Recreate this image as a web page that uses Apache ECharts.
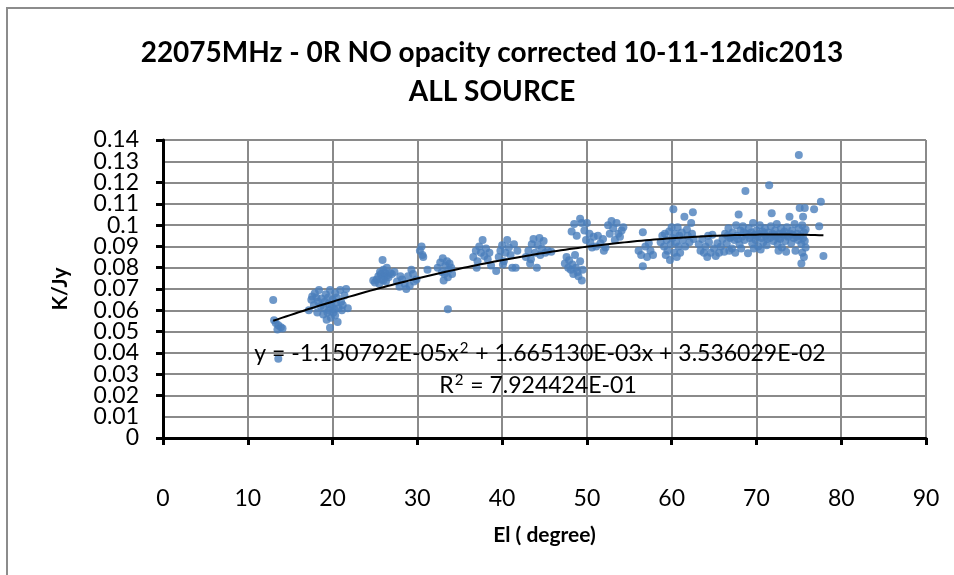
<!DOCTYPE html>
<html>
<head>
<meta charset="utf-8">
<script src="https://cdn.jsdelivr.net/npm/echarts@6/dist/echarts.min.js"></script>
<style>
  html, body { margin: 0; padding: 0; background: #fff; }
  #chart { width: 954px; height: 575px; }
</style>
</head>
<body>
<div id="chart"></div>
<script>
// Elevation (degree) and gain (K/Jy) of every source measurement, 10-11-12 dic 2013
const elevation = [
  // 13-14 deg
  13.0, 13.1, 13.3, 13.6, 13.9, 14.1, 13.5, 13.6,
  // 17-22 deg
  17.2, 17.5, 17.6, 17.9, 18.1, 18.3, 18.4, 18.6, 18.7, 18.9, 19.0, 19.1, 19.2, 19.3, 19.4, 19.5, 19.6, 19.7, 19.7, 19.8,
  19.9, 20.0, 20.1, 20.2, 20.3, 20.4, 20.5, 20.6, 20.7, 20.9, 21.0, 21.1, 21.2, 21.4, 21.6, 21.8, 17.8, 18.2, 19.5, 20.3,
  // 25-27 deg
  25.0, 25.2, 25.4, 25.5, 25.6, 25.7, 25.8, 25.9, 26.0, 26.1, 26.2, 26.3, 26.4, 26.5, 26.6, 26.8, 27.0, 27.3, 24.8, 26.0,
  // 27.5-30 deg
  27.6, 27.9, 28.2, 28.5, 28.7, 28.9, 29.1, 29.3, 29.5, 29.6, 29.9, 28.0,
  // 30-31 deg
  30.3, 30.5, 30.6, 30.7, 31.2,
  // 32-34 deg
  32.4, 32.7, 32.9, 33.0, 33.2, 33.3, 33.5, 33.6, 33.7, 33.8, 34.0, 34.1, 33.1, 33.6,
  // 36-39 deg
  36.6, 36.9, 37.1, 37.3, 37.5, 37.7, 37.9, 38.1, 38.3, 38.5, 38.7, 37.0,
  // 39-42 deg
  39.3, 39.6, 39.8, 40.0, 40.2, 40.4, 40.6, 40.8, 41.0, 41.2, 41.4, 41.6, 41.8, 40.1,
  // 43-46 deg
  42.8, 43.1, 43.3, 43.5, 43.7, 43.9, 44.1, 44.2, 44.4, 44.5, 44.7, 44.9, 45.1, 45.4, 45.8, 43.4,
  // 47-50 deg, lower group
  47.4, 47.6, 47.8, 47.9, 48.1, 48.3, 48.4, 48.6, 48.7, 48.9, 49.0, 49.2, 49.4, 49.5,
  // 48-50 deg, upper group
  48.2, 48.5, 48.8, 49.2, 49.4, 49.7, 50.0, 50.3, 49.9,
  // 50-55 deg
  50.4, 50.8, 51.1, 51.3, 51.6, 51.9, 52.2, 52.5, 52.7, 52.9, 53.1, 53.3, 53.5, 53.7, 53.9, 54.1, 54.3, 52.0, 50.6,
  // 56-58 deg
  56.1, 56.4, 56.6, 56.6, 56.9, 57.1, 57.3, 57.5, 57.8,
  // 58-63 deg
  58.7, 58.9, 59.1, 59.2, 59.4, 59.5, 59.7, 59.8, 59.9, 60.0, 60.1, 60.2, 60.3, 60.4, 60.5, 60.7, 60.8, 60.9, 61.0, 61.2,
  61.3, 61.5, 61.6, 61.8, 61.9, 62.1, 62.3, 62.4, 62.5, 62.6, 60.6, 59.3,
  // 63-66 deg
  63.2, 63.4, 63.6, 63.8, 64.0, 64.2, 64.4, 64.6, 64.8, 65.0, 65.2, 65.4, 65.6, 65.8, 66.0, 64.3,
  // 66-76 deg
  66.3, 66.5, 66.7, 66.9, 67.1, 67.2, 67.4, 67.6, 67.7, 67.9, 68.0, 68.1, 68.3, 68.4, 68.6, 68.7, 68.8, 69.0, 69.1, 69.2,
  69.4, 69.5, 69.6, 69.8, 69.9, 70.0, 70.2, 70.3, 70.4, 70.6, 70.7, 70.8, 71.0, 71.1, 71.2, 71.4, 71.5, 71.6, 71.7, 71.8,
  71.9, 72.0, 72.2, 72.3, 72.4, 72.5, 72.7, 72.8, 72.9, 73.0, 73.2, 73.3, 73.4, 73.6, 73.7, 73.9, 74.0, 74.1, 74.2, 74.4,
  74.5, 74.6, 74.8, 74.9, 75.0, 75.0, 75.1, 75.2, 75.3, 75.3, 75.4, 75.4, 75.5, 75.5, 75.6, 75.6, 75.7, 75.7, 75.8, 75.8,
  66.6, 67.0, 67.8, 68.5, 69.3, 70.1, 70.9, 71.3, 72.1, 72.6, 73.1, 73.8, 74.3, 74.7,
  66.2, 66.8, 67.5, 68.2, 69.7, 70.5, 72.6, 73.5,
  // 76-78 deg
  76.8, 77.4, 77.6, 77.9
];

const gainKJy = [
  0.0648, 0.0553, 0.0540, 0.0530, 0.0520, 0.0515, 0.0510, 0.0372,
  0.0600, 0.0650, 0.0665, 0.0680, 0.0660, 0.0640, 0.0695, 0.0620, 0.0655, 0.0580, 0.0610, 0.0640, 0.0675, 0.0555, 0.0590, 0.0630, 0.0600, 0.0695, 0.0518, 0.0565,
  0.0620, 0.0650, 0.0590, 0.0605, 0.0575, 0.0635, 0.0660, 0.0545, 0.0610, 0.0695, 0.0640, 0.0600, 0.0625, 0.0670, 0.0700, 0.0610, 0.0625, 0.0590, 0.0660, 0.0680,
  0.0730, 0.0745, 0.0760, 0.0725, 0.0780, 0.0770, 0.0745, 0.0836, 0.0790, 0.0760, 0.0775, 0.0735, 0.0800, 0.0765, 0.0755, 0.0775, 0.0770, 0.0780, 0.0740, 0.0740,
  0.0735, 0.0710, 0.0745, 0.0725, 0.0700, 0.0760, 0.0715, 0.0790, 0.0770, 0.0735, 0.0745, 0.0760,
  0.0880, 0.0900, 0.0860, 0.0850, 0.0790,
  0.0800, 0.0825, 0.0780, 0.0845, 0.0770, 0.0810, 0.0830, 0.0755, 0.0790, 0.0820, 0.0800, 0.0770, 0.0740, 0.0605,
  0.0850, 0.0880, 0.0830, 0.0900, 0.0870, 0.0930, 0.0855, 0.0890, 0.0840, 0.0870, 0.0810, 0.0800,
  0.0785, 0.0850, 0.0880, 0.0905, 0.0830, 0.0870, 0.0930, 0.0895, 0.0860, 0.0800, 0.0910, 0.0800, 0.0880, 0.0815,
  0.0850, 0.0880, 0.0820, 0.0910, 0.0935, 0.0870, 0.0800, 0.0905, 0.0940, 0.0860, 0.0890, 0.0925, 0.0870, 0.0880, 0.0875, 0.0840,
  0.0820, 0.0850, 0.0800, 0.0835, 0.0790, 0.0815, 0.0770, 0.0860, 0.0800, 0.0780, 0.0760, 0.0830, 0.0740, 0.0790,
  0.0970, 0.1005, 0.0950, 0.1030, 0.1010, 0.0975, 0.1010, 0.0960, 0.0930,
  0.0920, 0.0945, 0.0900, 0.0950, 0.0915, 0.0935, 0.0895, 0.1000, 0.0960, 0.1020, 0.0985, 0.0930, 0.1010, 0.0960, 0.0945, 0.0975, 0.0990, 0.0880, 0.0895,
  0.0880, 0.0860, 0.0967, 0.0807, 0.0900, 0.0850, 0.0915, 0.0880, 0.0860,
  0.0920, 0.0950, 0.0900, 0.0960, 0.0930, 0.0880, 0.0970, 0.0836, 0.0910, 0.0990, 0.0940, 0.1075, 0.0870, 0.0960, 0.0920, 0.0990, 0.0900, 0.0950, 0.0870, 0.0965,
  0.0930, 0.1040, 0.0900, 0.0980, 0.0950, 0.0920, 0.1010, 0.0960, 0.1060, 0.0935, 0.0850, 0.0860,
  0.0910, 0.0880, 0.0935, 0.0870, 0.0900, 0.0850, 0.0920, 0.0870, 0.0955, 0.0890, 0.0855, 0.0915, 0.0870, 0.0900, 0.0935, 0.0950,
  0.0960, 0.0915, 0.0985, 0.0940, 0.0890, 0.0965, 0.0930, 0.1000, 0.0950, 0.1050, 0.0910, 0.0975, 0.0945, 0.0995, 0.0930, 0.1160, 0.0960, 0.0868, 0.0985, 0.0940,
  0.0965, 0.0915, 0.1010, 0.0955, 0.0930, 0.0975, 0.0900, 0.0960, 0.1000, 0.0940, 0.0970, 0.0920, 0.0985, 0.0950, 0.0905, 0.0965, 0.1188, 0.0940, 0.0995, 0.1056,
  0.0960, 0.0925, 0.0975, 0.0945, 0.1005, 0.0910, 0.0960, 0.0935, 0.0985, 0.0895, 0.0955, 0.0970, 0.0925, 0.0990, 0.0945, 0.1040, 0.0960, 0.0915, 0.0975, 0.0940,
  0.1005, 0.0880, 0.0960, 0.0930, 0.1329, 0.0985, 0.1080, 0.0950, 0.0820, 0.0910, 0.1000, 0.0870, 0.0940, 0.1040, 0.0965, 0.0850, 0.1080, 0.0925, 0.0980, 0.0895,
  0.0950, 0.0945, 0.0935, 0.0965, 0.0950, 0.0945, 0.0960, 0.0935, 0.0955, 0.0940, 0.0960, 0.0950, 0.0955, 0.0945,
  0.0875, 0.0880, 0.0870, 0.0890, 0.0890, 0.0885, 0.0880, 0.0875,
  0.1075, 0.0995, 0.1110, 0.0855
];

// Second-order polynomial trendline: c2*x^2 + c1*x + c0
const trendCoefficients = [3.536029E-02, 1.665130E-03, -1.150792E-05];
const trendRange = [13.0, 77.9];

const xTicks = [0, 10, 20, 30, 40, 50, 60, 70, 80, 90];
const yTicks = [0, 0.01, 0.02, 0.03, 0.04, 0.05, 0.06, 0.07, 0.08, 0.09, 0.1, 0.11, 0.12, 0.13, 0.14];

const titleLines = ['22075MHz - 0R NO opacity corrected 10-11-12dic2013', 'ALL SOURCE'];
const equationParts = ['y = -1.150792E-05x', '2', ' + 1.665130E-03x + 3.536029E-02'];
const rSquaredParts = ['R', '2', ' = 7.924424E-01'];

const FONT = 'Lato, "Open Sans", sans-serif';

const points = elevation.map((x, i) => [x, gainKJy[i]]);

const trendPoints = [];
for (let k = 0; k <= 130; k++) {
  const x = trendRange[0] + (trendRange[1] - trendRange[0]) * k / 130;
  const y = trendCoefficients[0] + trendCoefficients[1] * x + trendCoefficients[2] * x * x;
  trendPoints.push([x, y]);
}

const supRich = {
  n: { fontFamily: FONT, fontSize: 23, color: '#000', lineHeight: 26, verticalAlign: 'bottom' },
  s: { fontFamily: FONT, fontSize: 15, color: '#000', lineHeight: 26, verticalAlign: 'top', padding: [2, 1, 0, 1] }
};
const richLine = parts => `{n|${parts[0]}}{s|${parts[1]}}{n|${parts[2]}}`;

const fmtY = v => String(Math.round(v * 100) / 100);
const yLabelStyle = { fontFamily: FONT, fontSize: 23, color: '#000', margin: 24 };
const yScale = {
  type: 'value',
  min: yTicks[0],
  max: yTicks[yTicks.length - 1],
  interval: yTicks[1] - yTicks[0]
};

const chart = echarts.init(document.getElementById('chart'), null, { renderer: 'canvas' });

chart.setOption({
  backgroundColor: '#ffffff',
  animation: false,
  title: {
    text: titleLines.join('\n'),
    left: 487,
    top: 28,
    textAlign: 'center',
    textStyle: {
      fontFamily: FONT,
      fontSize: 28,
      fontWeight: 'bold',
      color: '#000',
      lineHeight: 39
    }
  },
  grid: { left: 163, top: 140, width: 763, height: 298, containLabel: false },
  xAxis: {
    type: 'value',
    min: xTicks[0],
    max: xTicks[xTicks.length - 1],
    interval: 10,
    name: 'El ( degree)',
    nameLocation: 'middle',
    nameGap: 87,
    nameTextStyle: { fontFamily: FONT, fontSize: 21, fontWeight: 'bold', color: '#000' },
    axisLine: { show: true, onZero: false, lineStyle: { color: '#000', width: 3 } },
    axisTick: { show: true, length: 7, lineStyle: { color: '#000', width: 3 } },
    axisLabel: { fontFamily: FONT, fontSize: 23, color: '#000', margin: 49, showMinLabel: true, showMaxLabel: true },
    splitLine: { show: true, lineStyle: { color: '#8a8a8a', width: 2 } }
  },
  yAxis: [
    Object.assign({}, yScale, {
      position: 'left',
      name: 'K/Jy',
      nameLocation: 'middle',
      nameGap: 92,
      nameRotate: 90,
      nameTextStyle: { fontFamily: FONT, fontSize: 21, fontWeight: 'bold', color: '#000' },
      axisLine: { show: true, onZero: false, lineStyle: { color: '#000', width: 3 } },
      axisTick: { show: true, length: 7, lineStyle: { color: '#000', width: 3 } },
      axisLabel: Object.assign({}, yLabelStyle, {
        showMinLabel: true, showMaxLabel: true,
        formatter: fmtY
      }),
      splitLine: { show: true, lineStyle: { color: '#8a8a8a', width: 2 } }
    }),
    // companion label row: the ticks next to the end values, which the main axis drops
    Object.assign({}, yScale, {
      position: 'left',
      axisLine: { show: false },
      axisTick: { show: false },
      splitLine: { show: false },
      axisLabel: Object.assign({}, yLabelStyle, {
        showMinLabel: false, showMaxLabel: false,
        formatter: v => (v === yTicks[1] || Math.abs(v - yTicks[yTicks.length - 2]) < 1e-9) ? fmtY(v) : ''
      })
    })
  ],
  series: [
    {
      type: 'scatter',
      data: points,
      symbol: 'circle',
      symbolSize: 8,
      itemStyle: { color: '#4a7ebb' },
      z: 2
    },
    {
      type: 'line',
      data: trendPoints,
      showSymbol: false,
      lineStyle: { color: '#000', width: 2 },
      z: 3
    }
  ],
  graphic: [
    {
      type: 'rect',
      shape: { x: 7, y: 8, width: 980, height: 600 },
      style: { fill: null, stroke: '#8c8c8c', lineWidth: 2 },
      silent: true
    },
    {
      type: 'text',
      x: 540, y: 352,
      style: {
        text: richLine(equationParts), rich: supRich,
        textAlign: 'center', textVerticalAlign: 'middle'
      },
      z: 10
    },
    {
      type: 'text',
      x: 538, y: 384,
      style: {
        text: richLine(rSquaredParts), rich: supRich,
        textAlign: 'center', textVerticalAlign: 'middle'
      },
      z: 10
    }
  ]
});
</script>
</body>
</html>
